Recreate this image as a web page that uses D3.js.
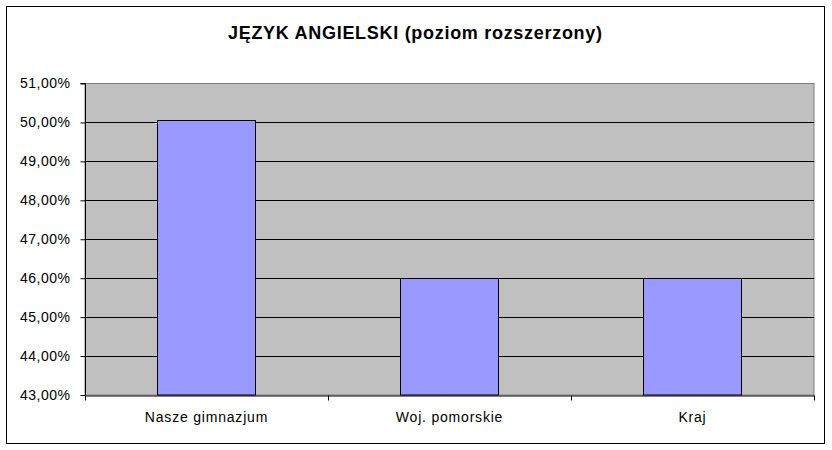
<!DOCTYPE html>
<html><head><meta charset="utf-8">
<script src="https://cdn.jsdelivr.net/npm/d3@7/dist/d3.min.js"></script>
<style>body{margin:0;background:#fff}svg{display:block}text{font-family:"Liberation Sans",Arial,sans-serif}</style>
</head><body><svg id="c" width="832" height="450"></svg>
<script>
const title = "JĘZYK ANGIELSKI (poziom rozszerzony)";
const categories = ["Nasze gimnazjum", "Woj. pomorskie", "Kraj"];
const values = [50.07, 46.0, 46.0];
const yTicks = [43, 44, 45, 46, 47, 48, 49, 50, 51];

const svg = d3.select("#c");
const m = {l: 85, r: 814, t: 83.5, b: 395};

svg.append("rect").attr("x", 6.5).attr("y", 6.5).attr("width", 818).attr("height", 437)
  .attr("fill", "#fff").attr("stroke", "#000").attr("stroke-width", 1);

const x = d3.scaleBand().domain(categories).range([m.l, m.r]).paddingInner(0.6).paddingOuter(0.3);
const y = d3.scaleLinear().domain([43, 51]).range([m.b, m.t]);

svg.append("rect").attr("x", m.l).attr("y", m.t).attr("width", m.r - m.l).attr("height", m.b - m.t)
  .attr("fill", "#C0C0C0").attr("stroke", "#808080");

svg.append("g").selectAll("line").data(yTicks.filter(d => d > 43 && d < 51)).join("line")
  .attr("x1", m.l).attr("x2", m.r)
  .attr("y1", d => Math.round(y(d)) + 0.5).attr("y2", d => Math.round(y(d)) + 0.5)
  .attr("stroke", "#000");

svg.append("g").selectAll("rect").data(values).join("rect")
  .attr("x", (d, i) => Math.round(x(categories[i])) - 0.5)
  .attr("y", d => Math.round(y(d)) + 0.5)
  .attr("width", Math.round(x.bandwidth()) + 1)
  .attr("height", d => m.b - Math.round(y(d)) - 0.5)
  .attr("fill", "#9999FF").attr("stroke", "#000");

const fmt = d => d.toFixed(2).replace(".", ",") + "%";
const ya = svg.append("g").attr("transform", `translate(${m.l + 0.5},0)`)
  .call(d3.axisLeft(y).tickValues(yTicks).tickFormat(fmt).tickSize(5).tickPadding(10));
ya.selectAll("text").attr("font-size", 14).attr("letter-spacing", 0.5).attr("fill", "#000")
  .attr("font-family", "Liberation Sans, Arial, sans-serif");
ya.selectAll("line").attr("stroke", "#000");
ya.select(".domain").attr("stroke", "#000").attr("d", `M-5,${m.t}H0V${m.b}`);

const xb = d3.scalePoint().domain([0, 1, 2, 3]).range([m.l, m.r]);
const xa = svg.append("g").attr("transform", `translate(0,${m.b + 0.5})`)
  .call(d3.axisBottom(xb).tickValues([0, 1, 2, 3]).tickFormat("").tickSize(5).tickSizeOuter(0));
xa.selectAll("line").attr("stroke", "#000");
xa.select(".domain").attr("stroke", "#000");
xa.selectAll(".tick").attr("transform", d => `translate(${Math.round(xb(d)) + 0.5},0)`);

svg.append("g").selectAll("text").data(categories).join("text")
  .attr("x", d => x(d) + x.bandwidth() / 2).attr("y", 422)
  .attr("text-anchor", "middle").attr("font-size", 14).attr("letter-spacing", 0.8)
  .attr("fill", "#000").text(d => d);

svg.append("text").attr("x", 415).attr("y", 39).attr("text-anchor", "middle")
  .attr("font-size", 18).attr("font-weight", "bold").attr("fill", "#000")
  .attr("textLength", 374).attr("lengthAdjust", "spacing").text(title);
</script></body></html>
